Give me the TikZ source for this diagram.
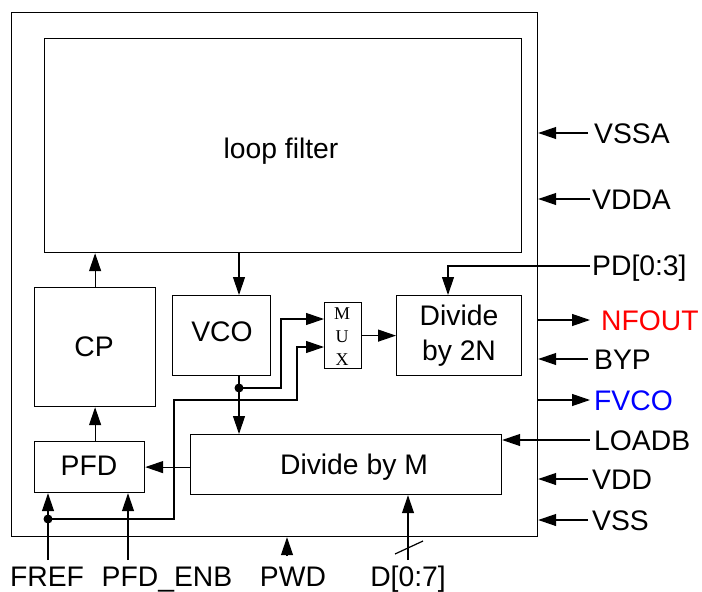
\documentclass[tikz,border=0pt]{standalone}
\usepackage{fontspec}
\setmainfont{Liberation Sans}
\newfontfamily\muxfont{Liberation Serif}
\usetikzlibrary{arrows.meta,calc}
\begin{document}
\begin{tikzpicture}[x=1pt,y=-1pt,
  box/.style={draw, line width=1.2pt, inner sep=0pt, anchor=north west},
  wire/.style={line width=1.2pt},
  arr/.style={wire, -{Triangle[length=18pt,width=12pt]}},
  lbl/.style={font=\fontsize{28.3}{32}\selectfont, inner sep=0pt},
  muxl/.style={font=\muxfont\fontsize{18}{22}\selectfont, inner sep=0pt, anchor=base},
  dotn/.style={circle, fill, inner sep=0pt, minimum size=9pt}]
\useasboundingbox (0,0) rectangle (702,592);

% boxes
\node[box, minimum width=526pt, minimum height=524pt] (outer) at (11,12) {};
\node[box, minimum width=477pt, minimum height=214pt] (lf) at (44,38) {};
\node[box, minimum width=121pt, minimum height=119pt] (cp) at (34,287) {};
\node[box, minimum width=98pt, minimum height=80pt] (vco) at (172,295) {};
\node[box, minimum width=37pt, minimum height=66pt] (mux) at (324,302) {};
\node[box, minimum width=125pt, minimum height=80pt] (div2n) at (396,295) {};
\node[box, minimum width=110pt, minimum height=51pt] (pfd) at (34,441) {};
\node[box, minimum width=311pt, minimum height=60pt] (divm) at (190,434) {};

% box texts
\node[lbl, anchor=base] (lft) at (281,158) {loop filter};
\node[lbl, anchor=base] (cpt) at (94,356) {CP};
\node[lbl, anchor=base] (vcot) at (222,341) {VCO};
\node[lbl, anchor=base] (pfdt) at (89,475) {PFD};
\node[lbl, anchor=base] (divmt) at (354,474) {Divide by M};
\node[lbl, anchor=base] (d2a) at (459,325) {Divide};
\node[lbl, anchor=base] (d2b) at (459,360) {by 2N};
\node[muxl] (mm) at (342,319) {M};
\node[muxl] (mu) at (342,342) {U};
\node[muxl] (mx) at (342,365) {X};

% internal arrows
\draw[arr] (cp.north) -- (cp.north |- lf.south);
\draw[arr] (pfd.north -| cp.north) -- (cp.south);
\coordinate (vcox) at (239,0);
\draw[arr] (vcox |- lf.south) -- (vcox |- vco.north);
\draw[arr] (mux.east) -- (mux.east -| div2n.west);
\draw[arr] (divm.west |- pfd.east) -- (pfd.east);

% VCO output branch
\node[dotn] (d2) at (239,388) {};
\draw[arr] (d2 |- vco.south) -- (d2 |- divm.north);
\coordinate (m1) at (281,388);
\coordinate (m1u) at (281,319);
\draw[arr] (d2.center) -- (m1) -- (m1u) -- (m1u -| mux.west);

% FREF branch to MUX
\node[dotn] (d1) at (48,519) {};
\coordinate (f1) at (174,519);
\coordinate (f2) at (174,400);
\coordinate (f3) at (297,400);
\coordinate (f4) at (297,347);
\draw[arr] (d1.center) -- (f1) -- (f2) -- (f3) -- (f4) -- (f4 -| mux.west);

% bottom inputs
\coordinate (fref) at (48,560);
\coordinate (enb) at (128,560);
\coordinate (pwd) at (287,556);
\coordinate (dbus) at (408,560);
\draw[arr] (fref) -- (fref |- pfd.south);
\draw[arr] (enb) -- (enb |- pfd.south);
\draw[arr] (pwd) -- (pwd |- outer.south);
\draw[arr] (dbus) -- (dbus |- divm.south);
\coordinate (s1) at (395,554);
\coordinate (s2) at (423,541);
\draw[wire] (s1) -- (s2);

\node[lbl, anchor=base] (freft) at (47,586) {FREF};
\node[lbl, anchor=base] (enbt) at (167,586) {PFD\_ENB};
\node[lbl, anchor=base] (pwdt) at (293,586) {PWD};
\node[lbl, anchor=base] (dbt) at (408,586) {D[0:7]};

% right side
\coordinate (vssa) at (588,133);
\coordinate (vdda) at (590,199);
\coordinate (pd) at (590,266);
\coordinate (pdc) at (448,266);
\coordinate (nfout) at (590,320);
\coordinate (byp) at (588,359);
\coordinate (fvco) at (590,400);
\coordinate (loadb) at (590,440);
\coordinate (vdd) at (588,479);
\coordinate (vss) at (588,520);
\draw[arr] (vssa) -- (vssa -| outer.east);
\draw[arr] (vdda) -- (vdda -| outer.east);
\draw[arr] (pd) -- (pdc) -- (pdc |- div2n.north);
\draw[arr] (nfout -| outer.east) -- (nfout);
\draw[arr] (byp) -- (byp -| outer.east);
\draw[arr] (fvco -| outer.east) -- (fvco);
\draw[arr] (loadb) -- (loadb -| divm.east);
\draw[arr] (vdd) -- (vdd -| outer.east);
\draw[arr] (vss) -- (vss -| outer.east);

\node[lbl, anchor=base west] (vssat) at (594,143) {VSSA};
\node[lbl, anchor=base west] (vddat) at (592,209) {VDDA};
\node[lbl, anchor=base west] (pdt) at (592,275) {PD[0:3]};
\node[lbl, anchor=base west, text=red] (nfoutt) at (601,330) {NFOUT};
\node[lbl, anchor=base west] (bypt) at (594,369) {BYP};
\node[lbl, anchor=base west, text=blue] (fvcot) at (594,410) {FVCO};
\node[lbl, anchor=base west] (loadbt) at (594,450) {LOADB};
\node[lbl, anchor=base west] (vddt) at (592,489) {VDD};
\node[lbl, anchor=base west] (vsst) at (592,530) {VSS};
\end{tikzpicture}
\end{document}
